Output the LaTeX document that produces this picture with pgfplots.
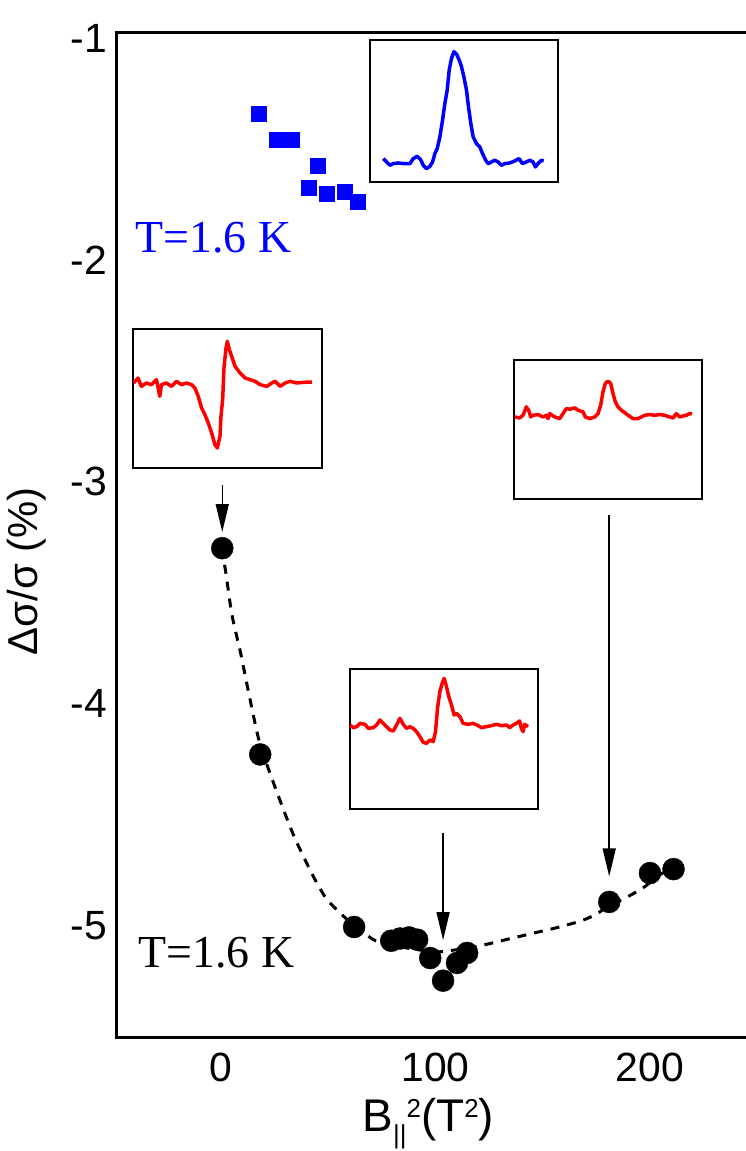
\documentclass[border=0pt]{standalone}
\usepackage{pgfplots}
\pgfplotsset{compat=1.18}
\usepackage{fontspec}
\setmainfont{Liberation Sans}
\newfontfamily\serifT{Liberation Serif}
\usetikzlibrary{arrows.meta}
\newcommand{\ssz}{\fontsize{26}{26}\selectfont}
\pgfplotsset{inset/.style={scale only axis, anchor=south west, ticks=none,
  axis line style={line width=1.5bp}, clip=true}}
\begin{document}
\begin{tikzpicture}
\begin{axis}[
  name=main, at={(0,0)}, anchor=south west,
  scale only axis, width=629bp, height=1004bp,
  xmin=-48.6, xmax=244.8, ymin=-5.504, ymax=-0.977,
  axis line style={draw=none},
  xtick={0,100,200}, xticklabels={0,100,200},
  ytick={-5,-4,-3,-2,-1}, yticklabels={-5,-4,-3,-2,-1},
  major tick length=0pt,
  tick label style={font=\fontsize{41}{41}\selectfont},
  yticklabel style={inner sep=0pt, xshift=-10bp},
  xticklabel style={inner sep=0pt, yshift=-16bp},
  xlabel={B\raisebox{-12bp}{\ssz ||}\raisebox{14bp}{\ssz 2}(T\raisebox{14bp}{\ssz 2})},
  xlabel style={font=\fontsize{46}{46}\selectfont, at={(axis description cs:0.495,-0.0946)}, anchor=base, inner sep=0pt},
  ylabel={Δσ/σ (\%)},
  ylabel style={font=\fontsize{42}{42}\selectfont, at={(axis description cs:-0.127,0.464)}, anchor=base, inner sep=0pt},
  clip=false,
]
% frame (top, left, bottom; right side cut off)
\draw[line width=3bp] (rel axis cs:1,1) -- (rel axis cs:0,1) -- (rel axis cs:0,0) -- (rel axis cs:1,0);
% dashed guide curve
\addplot[black, line width=3bp, dash pattern=on 9bp off 8bp, smooth, tension=0.4] coordinates {
(0,-3.30) (2,-3.40) (5,-3.60) (9,-3.77) (13,-3.96) (18,-4.18) (26,-4.40) (34,-4.60)
(43,-4.78) (49,-4.88) (56,-4.95) (62,-5.00) (72,-5.07) (85,-5.10) (100,-5.12) (110,-5.11)
(122,-5.09) (135,-5.06) (146,-5.035) (157,-5.01) (168,-4.98) (175,-4.95) (181,-4.91)
(188,-4.88) (197,-4.83) (205,-4.77) (211,-4.74)};
% black data
\addplot[only marks, mark=*, mark size=11bp, black] coordinates {
(0.5,-3.30) (18.2,-4.23) (62,-5.008) (79.3,-5.07) (83.4,-5.06) (87.6,-5.055) (91.4,-5.065)
(97.5,-5.148) (103.5,-5.25) (110,-5.17) (114.7,-5.125) (181,-4.895) (200,-4.765) (211,-4.747)};
% blue data
\addplot[only marks, mark=square*, mark size=7.5bp, blue] coordinates {
(17.7,-1.343) (26.1,-1.46) (33.1,-1.46) (44.8,-1.577) (41.0,-1.676) (49.0,-1.703)
(57.8,-1.694) (63.9,-1.739)};
% arrows
\draw[line width=1.5bp, -{Triangle[length=28bp,width=13bp]}] (axis cs:0.5,-3.015) -- (axis cs:0.5,-3.227);
\draw[line width=1.5bp, -{Triangle[length=28bp,width=13bp]}] (axis cs:103.5,-4.584) -- (axis cs:103.5,-5.067);
\draw[line width=1.5bp, -{Triangle[length=28bp,width=13bp]}] (axis cs:181,-3.15) -- (axis cs:181,-4.78);
% texts
\node[anchor=base west, inner sep=0pt, text=blue, font=\serifT\fontsize{46}{46}\selectfont] at (axis cs:-40.1,-1.965) {T=1.6 K};
\node[anchor=base west, inner sep=0pt, text=black, font=\serifT\fontsize{46}{46}\selectfont] at (axis cs:-38.7,-5.19) {T=1.6 K};
\end{axis}
% inset: blue peak
\begin{axis}[inset, at={(253bp,855bp)}, width=188bp, height=142bp,
  xmin=30, xmax=595, ymin=-455, ymax=-30]
\addplot[blue, line width=3.5bp, line join=round] coordinates {
(70,-385) (80,-395) (90,-405) (100,-400) (115,-398) (130,-400) (150,-400) (160,-385) (172,-378)
(182,-388) (190,-405) (200,-415) (210,-408) (218,-395) (225,-370) (232,-355) (240,-320) (248,-270)
(255,-220) (262,-180) (268,-120) (275,-85) (282,-65) (290,-72) (298,-90) (305,-110) (312,-140)
(320,-180) (326,-230) (333,-280) (340,-320) (350,-340) (360,-350) (368,-370) (378,-390) (385,-400)
(395,-395) (405,-390) (415,-395) (425,-405) (435,-400) (450,-398) (465,-392) (478,-385) (488,-400)
(500,-395) (510,-390) (520,-395) (527,-410) (535,-400) (545,-390) (552,-392)};
\end{axis}
% inset: red derivative-like
\begin{axis}[inset, at={(16bp,569bp)}, width=189bp, height=139bp,
  xmin=40, xmax=605, ymin=-445, ymax=-28]
\addplot[red, line width=3.5bp, line join=round] coordinates {
(42,-190) (55,-175) (65,-200) (80,-190) (95,-195) (110,-180) (120,-230) (125,-195) (140,-190)
(155,-200) (170,-185) (185,-195) (200,-190) (215,-195) (225,-205) (235,-230) (245,-265) (255,-285)
(265,-310) (275,-340) (285,-375) (292,-385) (300,-350) (303,-290) (308,-240) (312,-145) (318,-85)
(322,-65) (328,-90) (335,-110) (345,-140) (360,-160) (375,-175) (390,-180) (405,-185) (420,-195)
(440,-200) (455,-190) (465,-185) (480,-200) (495,-190) (510,-185) (530,-190) (550,-188) (575,-187)};
\end{axis}
% inset: red centre
\begin{axis}[inset, at={(233bp,228bp)}, width=188bp, height=140bp,
  xmin=15, xmax=580, ymin=-432, ymax=-12]
\addplot[red, line width=3.5bp, line join=round] coordinates {
(15,-180) (25,-188) (35,-185) (45,-175) (60,-178) (70,-190) (85,-188) (95,-180) (105,-165)
(115,-175) (125,-185) (135,-195) (145,-198) (155,-180) (165,-160) (175,-178) (185,-190) (195,-185)
(205,-190) (215,-200) (225,-215) (235,-232) (245,-235) (255,-225) (265,-230) (272,-200) (278,-130)
(285,-80) (292,-55) (298,-40) (305,-65) (312,-95) (320,-120) (328,-150) (335,-145) (345,-155)
(355,-175) (370,-178) (385,-175) (400,-182) (410,-188) (425,-185) (440,-182) (455,-178) (470,-182)
(485,-180) (495,-188) (505,-180) (515,-175) (525,-168) (530,-190) (535,-200) (540,-178) (550,-185)};
\end{axis}
% inset: red right
\begin{axis}[inset, at={(397bp,538bp)}, width=188bp, height=139bp,
  xmin=18, xmax=582, ymin=-440, ymax=-25]
\addplot[red, line width=3.5bp, line join=round] coordinates {
(20,-195) (35,-198) (45,-190) (55,-165) (62,-175) (68,-195) (75,-190) (90,-188) (105,-195)
(115,-190) (120,-200) (125,-185) (140,-195) (155,-200) (165,-185) (175,-170) (185,-172) (200,-168)
(210,-175) (225,-180) (232,-195) (245,-200) (260,-195) (270,-185) (278,-160) (285,-120) (292,-95)
(300,-88) (308,-95) (315,-125) (322,-150) (330,-165) (340,-175) (350,-182) (360,-190) (375,-200)
(390,-200) (400,-195) (410,-190) (425,-188) (440,-190) (455,-188) (470,-190) (485,-195) (495,-198)
(505,-185) (515,-195) (525,-192) (535,-190) (545,-185) (552,-185)};
\end{axis}
\pgfresetboundingbox
\path (-117bp,-114bp) rectangle (629bp,1037bp);
\end{tikzpicture}
\end{document}
